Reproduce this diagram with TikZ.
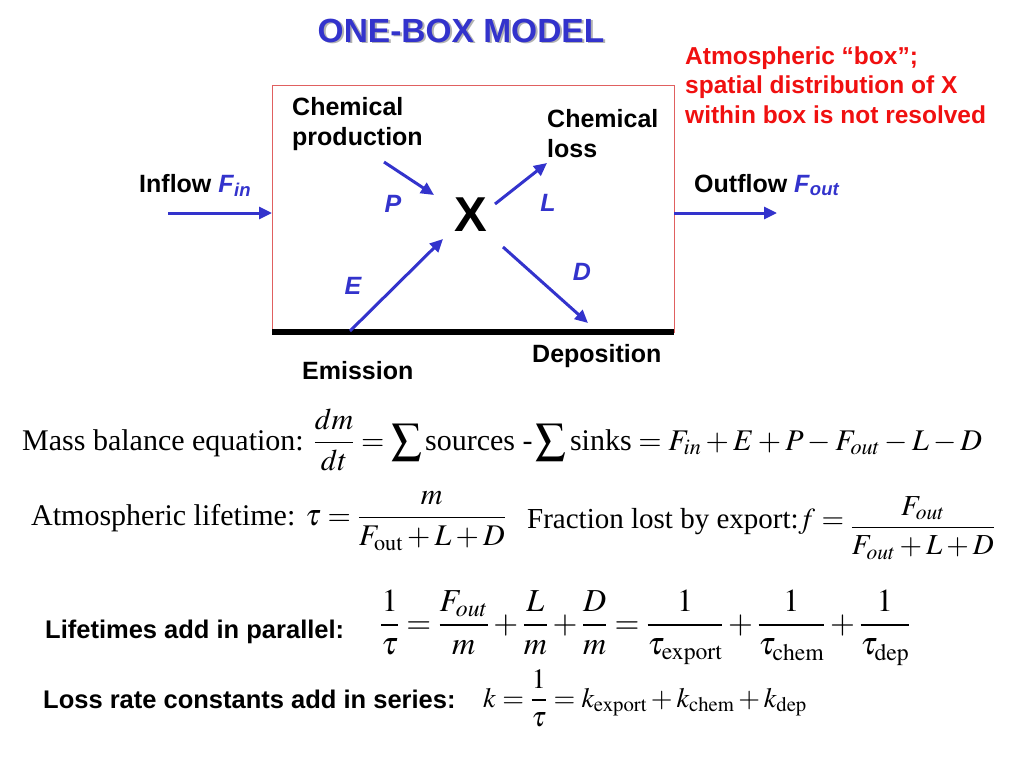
\documentclass[tikz,border=0pt]{standalone}
\usepackage{amsmath}
\usepackage{mathptmx}
\usepackage{fontspec}
\setmainfont{Liberation Serif}
\setsansfont{Liberation Sans}
\usetikzlibrary{
    arrows.meta,  % arrow tips
    positioning,  % relative placement
}
\definecolor{flowblue}{HTML}{3333CC}
\definecolor{notered}{HTML}{F01010}
\definecolor{boxred}{HTML}{E06060}

\begin{document}
\begin{tikzpicture}[x=1pt, y=-1pt,
    lbl/.style={font=\sffamily\bfseries\fontsize{25}{30}\selectfont, inner sep=0pt, align=left},
    sym/.style={font=\sffamily\bfseries\itshape\fontsize{25}{30}\selectfont, text=flowblue, inner sep=0pt},
    flow/.style={flowblue, line width=3pt, -{Triangle[length=13pt, width=12pt]}},
    eqn/.style={font=\fontsize{30}{36}\selectfont, inner sep=0pt, anchor=base west},
    eqlbl/.style={font=\sffamily\bfseries\fontsize{25.5}{30}\selectfont, inner sep=0pt, anchor=base west},
]
    \useasboundingbox (0,0) rectangle (1024,768);

    % title with its shadow
    \node[font=\sffamily\bfseries\fontsize{33.5}{40}\selectfont, text=black!30, anchor=base] at (463,44) {ONE-BOX MODEL};
    \node[font=\sffamily\bfseries\fontsize{33.5}{40}\selectfont, text=flowblue, anchor=base] (title) at (461,42) {ONE-BOX MODEL};
    \node[lbl, font=\sffamily\bfseries\fontsize{24.5}{29.5}\selectfont, text=notered, anchor=base west] (note) at (685,123)
        {Atmospheric “box”;\\spatial distribution of X\\within box is not resolved};

    % the box and the ground
    \draw[boxred, line width=1pt] (272,85) rectangle (674,332);
    \coordinate (gl) at (272,332);
    \coordinate (gr) at (674,332);
    \draw[line width=5.5pt] (gl) -- (gr);

    \node[font=\sffamily\bfseries\fontsize{49}{50}\selectfont, inner sep=0pt] (X) at (471,215) {X};

    \node[lbl, anchor=base west] (prod) at (292,145) {Chemical\\production};
    \node[lbl, anchor=base west] (loss) at (547,157) {Chemical\\loss};
    \node[lbl, anchor=base west] (inflow) at (139,192) {Inflow \textcolor{flowblue}{\textit{F}\textsubscript{\textit{in}}}};
    \node[lbl, anchor=base west] (outflow) at (694,192) {Outflow \textcolor{flowblue}{\textit{F}\textsubscript{\textit{out}}}};
    \node[lbl, anchor=base west] (emis) at (302,379) {Emission};
    \node[lbl, anchor=base west] (depo) at (532,362) {Deposition};

    \node[sym] (P) at (393,204) {P};
    \node[sym] (L) at (548,203) {L};
    \node[sym] (E) at (353,286) {E};
    \node[sym] (D) at (582,272) {D};

    % flows
    \coordinate (in0) at (168,213);
    \coordinate (in1) at (272,213);
    \coordinate (out0) at (674,213);
    \coordinate (out1) at (777,213);
    \coordinate (p0) at (384,162);
    \coordinate (p1) at (434,195);
    \coordinate (e0) at (350,331);
    \coordinate (e1) at (443,239);
    \coordinate (l0) at (495,204);
    \coordinate (l1) at (547,163);
    \coordinate (d0) at (503,247);
    \coordinate (d1) at (588,323);
    \draw[flow] (in0) -- (in1);
    \draw[flow] (out0) -- (out1);
    \draw[flow] (p0) -- (p1);
    \draw[flow] (e0) -- (e1);
    \draw[flow] (l0) -- (l1);
    \draw[flow] (d0) -- (d1);

    % equations
    \node[eqn] (mass) at (22,450)
        {Mass balance equation: $\dfrac{dm}{dt}=\displaystyle\sum\text{sources -}\sum\text{sinks}=F_{in}+E+P-F_{out}-L-D$};
    \node[eqn] (life) at (31,525)
        {Atmospheric lifetime: $\tau=\dfrac{m}{F_{\mathrm{out}}+L+D}$};
    \node[eqn, font=\fontsize{29}{36}\selectfont] (frac) at (527,528)
        {Fraction lost by export:$f=\raisebox{-7pt}{$\displaystyle\frac{F_{out}}{F_{out}+L+D}$}$};
    \node[eqlbl] (par) at (45,638) {Lifetimes add in parallel:};
    \node[eqn, font=\fontsize{32}{38}\selectfont] (pareq) at (380,633)
        {$\dfrac{1}{\tau}=\dfrac{F_{out}}{m}+\dfrac{L}{m}+\dfrac{D}{m}=\dfrac{1}{\tau_{\mathrm{export}}}+\dfrac{1}{\tau_{\mathrm{chem}}}+\dfrac{1}{\tau_{\mathrm{dep}}}$};
    \node[eqlbl] (ser) at (43,708) {Loss rate constants add in series:};
    \node[eqn, font=\fontsize{28}{34}\selectfont] (sereq) at (483,707)
        {$k=\dfrac{1}{\tau}=k_{\mathrm{export}}+k_{\mathrm{chem}}+k_{\mathrm{dep}}$};
\end{tikzpicture}
\end{document}
